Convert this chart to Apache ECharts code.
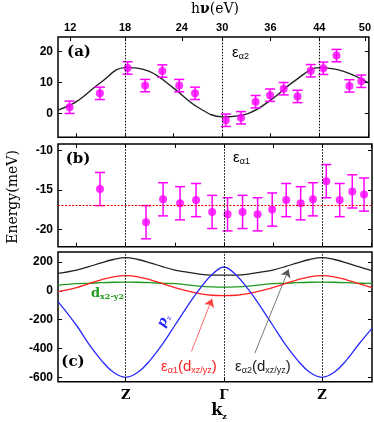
<!DOCTYPE html>
<html><head><meta charset="utf-8">
<script src="https://cdn.jsdelivr.net/npm/echarts@6/dist/echarts.min.js"></script>
<style>html,body{margin:0;padding:0;background:#fff}#c{width:374px;height:422px}</style>
</head><body><div id="c"></div>
<script>
// ---- tick labels ----
const hvTickLabels = [12, 18, 24, 30, 36, 44, 50];
const hvTickKz = [-1.564, -1, -0.415, 0, 0.497, 1, 1.469];
const symLabels = ['Z', 'Γ', 'Z'];
const symKz = [-1, 0, 1];
const kzTicks = [-1.5, -1, -0.5, 0, 0.5, 1, 1.5];
const aYTicks = [0, 10, 20];
const bYTicks = [-20, -15, -10];
const cYTicks = [-600, -400, -200, 0, 200];

// ---- panel (a): epsilon_alpha2 ----
const aKz = [-1.571, -1.259, -0.973, -0.793, -0.616, -0.442, -0.279, 0.037, 0.194, 0.344, 0.493, 0.633, 0.776, 0.912, 1.041, 1.177, 1.310, 1.432];
const aVal = [2.0, 6.5, 14.7, 9.0, 13.7, 9.0, 6.5, -2.2, -1.4, 3.8, 5.9, 8.0, 5.5, 13.8, 14.6, 18.7, 8.9, 10.4];
const aErr = [2, 2, 2, 2, 2, 2, 2, 2, 2, 2, 2, 2, 2, 2, 2, 2, 2, 2];
const aFitKz = [-1.69, -1.5, -1.25, -1.0, -0.75, -0.5, -0.25, 0, 0.25, 0.5, 0.75, 1.0, 1.25, 1.51];
const aFitVal = [1.1, 3.8, 10.0, 14.8, 13.6, 8.2, 2.0, -1.1, -0.2, 4.3, 10.6, 14.8, 13.6, 9.8];

// ---- panel (b): epsilon_alpha1 ----
const bKz = [-1.262, -0.793, -0.619, -0.446, -0.283, -0.119, 0.038, 0.191, 0.344, 0.493, 0.636, 0.783, 0.908, 1.044, 1.181, 1.309, 1.429];
const bVal = [-14.9, -19.1, -16.2, -16.7, -16.3, -17.8, -18.1, -17.8, -18.1, -17.5, -16.3, -16.7, -16.2, -13.9, -16.3, -15.2, -15.6];
const bErr = [2.1, 2.1, 2.1, 2.1, 2.1, 2.1, 2.1, 2.1, 2.1, 2.1, 2.1, 2.1, 2.1, 2.1, 2.1, 2.1, 2.1];
const bRef = -17;

// ---- panel (c): calculated bands ----
const cKz = [-1.69, -1.5, -1.375, -1.25, -1.125, -1, -0.875, -0.75, -0.625, -0.5, -0.375, -0.25, -0.125, 0, 0.125, 0.25, 0.375, 0.5, 0.625, 0.75, 0.875, 1, 1.125, 1.25, 1.375, 1.51];
const cBlack = [122, 145, 168, 195, 218, 231, 218, 195, 168, 145, 130, 117, 110, 109, 110, 117, 130, 145, 168, 195, 218, 231, 218, 195, 168, 140];
const cRed = [-5, 23, 50, 77, 98, 106, 98, 77, 50, 23, 0, -18, -30, -33, -30, -18, 0, 23, 50, 77, 98, 106, 98, 77, 50, 23];
const cGreen = [39, 50, 53, 57, 60, 61, 60, 57, 53, 50, 42, 33, 28, 26, 28, 33, 42, 50, 53, 57, 60, 61, 60, 57, 53, 52];
const cBlue = [-74, -240, -370, -480, -565, -600, -565, -480, -370, -240, -110, 10, 110, 166, 110, 10, -110, -240, -370, -480, -565, -600, -565, -480, -370, -260];

const zip = (xs, ys) => xs.map((x, i) => [x, ys[i]]);
const zip3 = (xs, ys, es) => xs.map((x, i) => [x, ys[i], es[i]]);
const nearestLabel = (vals, labels) => v => {
  let bi = 0, bd = Infinity;
  vals.forEach((t, i) => { const d = Math.abs(t - v); if (d < bd) { bd = d; bi = i; } });
  return String(labels[bi]);
};

const MAG = '#ff00ff';
function errRender(params, api) {
  const x = api.value(0), y = api.value(1), e = api.value(2);
  const t = api.coord([x, y + e]), b = api.coord([x, y - e]);
  const w = 5;
  const st = { stroke: MAG, lineWidth: 1.5 };
  return { type: 'group', children: [
    { type: 'line', shape: { x1: t[0], y1: t[1], x2: b[0], y2: b[1] }, style: st },
    { type: 'line', shape: { x1: t[0] - w, y1: t[1], x2: t[0] + w, y2: t[1] }, style: st },
    { type: 'line', shape: { x1: b[0] - w, y1: b[1], x2: b[0] + w, y2: b[1] }, style: st }
  ]};
}

const XMIN = -1.69, XMAX = 1.51;
const tickStyle = { inside: true, length: 4, lineStyle: { color: '#000', width: 1 } };
const yLab = { fontFamily: 'Liberation Sans', fontWeight: 'bold', fontSize: 12, color: '#000', margin: 5 };

function xAx(grid, pos, ticks, labelOpt) {
  return {
    type: 'value', gridIndex: grid, position: pos, min: XMIN, max: XMAX,
    axisLine: { show: false, onZero: false }, splitLine: { show: false },
    axisTick: Object.assign({ show: !!ticks, customValues: ticks || [] }, tickStyle),
    axisLabel: labelOpt || { show: false }
  };
}
function yAx(grid, pos, min, max, ticks, show) {
  return {
    type: 'value', gridIndex: grid, position: pos, min: min, max: max,
    axisLine: { show: false, onZero: false }, splitLine: { show: false },
    axisTick: Object.assign({ show: true, customValues: ticks }, tickStyle),
    axisLabel: show ? Object.assign({ customValues: ticks }, yLab) : { show: false }
  };
}

const vDots = () => ({
  silent: true, symbol: 'none', animation: false,
  label: { show: false },
  lineStyle: { color: '#000', width: 1, type: [1.5, 1.5] },
  data: symKz.map(v => ({ xAxis: v }))
});

const gridBase = { left: 58, right: 2, show: true, borderColor: '#000', borderWidth: 1.5, backgroundColor: 'transparent' };
const serifBold = { fontFamily: 'DejaVu Serif', fontWeight: 'bold', fontSize: 15, fill: '#000' };

const option = {
  animation: false,
  grid: [
    Object.assign({ top: 37, height: 100.3 }, gridBase),
    Object.assign({ top: 144, height: 102.7 }, gridBase),
    Object.assign({ top: 252, height: 129.7 }, gridBase)
  ],
  xAxis: [
    xAx(0, 'bottom', kzTicks),
    xAx(0, 'top', hvTickKz, { customValues: hvTickKz, formatter: nearestLabel(hvTickKz, hvTickLabels), fontFamily: 'Liberation Sans', fontWeight: 'bold', fontSize: 11, color: '#000', margin: 4 }),
    xAx(1, 'bottom', kzTicks),
    xAx(1, 'top', kzTicks),
    xAx(2, 'bottom', symKz, { customValues: symKz, formatter: nearestLabel(symKz, symLabels), fontFamily: 'DejaVu Serif', fontWeight: 'bold', fontSize: 13, color: '#000', margin: 7 }),
    xAx(2, 'top', null)
  ],
  yAxis: [
    yAx(0, 'left', -7.7, 24.7, aYTicks, true),
    yAx(0, 'right', -7.7, 24.7, aYTicks, false),
    yAx(1, 'left', -22.2, -9.2, bYTicks, true),
    yAx(1, 'right', -22.2, -9.2, bYTicks, false),
    yAx(2, 'left', -630, 270, cYTicks, true),
    yAx(2, 'right', -630, 270, cYTicks, false)
  ],
  series: [
    { type: 'line', xAxisIndex: 0, yAxisIndex: 0, data: zip(aFitKz, aFitVal), smooth: 0.4, showSymbol: false,
      lineStyle: { color: '#222', width: 1.4 }, markLine: vDots(), z: 2 },
    { type: 'custom', xAxisIndex: 0, yAxisIndex: 0, data: zip3(aKz, aVal, aErr), renderItem: errRender,
      encode: { x: 0, y: 1 }, z: 3 },
    { type: 'scatter', xAxisIndex: 0, yAxisIndex: 0, data: zip(aKz, aVal), symbolSize: 8,
      itemStyle: { color: MAG }, z: 4 },

    { type: 'custom', xAxisIndex: 2, yAxisIndex: 2, data: zip3(bKz, bVal, bErr), renderItem: errRender,
      encode: { x: 0, y: 1 }, z: 3,
      markLine: { silent: true, symbol: 'none', label: { show: false },
        data: symKz.map(v => ({ xAxis: v, lineStyle: { color: '#000', width: 1, type: [1.5, 1.5] } }))
          .concat([{ yAxis: bRef, lineStyle: { color: '#ee0000', width: 1.2, type: [2, 1.5] } }]) } },
    { type: 'scatter', xAxisIndex: 2, yAxisIndex: 2, data: zip(bKz, bVal), symbolSize: 8,
      itemStyle: { color: MAG }, z: 4 },

    { type: 'line', xAxisIndex: 4, yAxisIndex: 4, data: zip(cKz, cGreen), smooth: 0.4, showSymbol: false,
      lineStyle: { color: '#1f9a1f', width: 1.3 }, markLine: vDots() },
    { type: 'line', xAxisIndex: 4, yAxisIndex: 4, data: zip(cKz, cBlack), smooth: 0.4, showSymbol: false,
      lineStyle: { color: '#222', width: 1.3 },
      markLine: { silent: true, symbol: ['none', 'arrow'], symbolSize: 8, label: { show: false },
        lineStyle: { color: '#555', width: 0.8, type: 'solid' },
        data: [[{ coord: [0.316, -432] }, { coord: [0.66, 150] }]] } },
    { type: 'line', xAxisIndex: 4, yAxisIndex: 4, data: zip(cKz, cRed), smooth: 0.4, showSymbol: false,
      lineStyle: { color: '#ff2020', width: 1.3 },
      markLine: { silent: true, symbol: ['none', 'arrow'], symbolSize: 8, label: { show: false },
        lineStyle: { color: '#ff4040', width: 0.8, type: 'solid' },
        data: [[{ coord: [-0.33, -420] }, { coord: [-0.12, -55] }]] } },
    { type: 'line', xAxisIndex: 4, yAxisIndex: 4, data: zip(cKz, cBlue), smooth: 0.4, showSymbol: false,
      lineStyle: { color: '#2828ff', width: 1.3 } }
  ],
  graphic: [
    { type: 'text', x: 215, y: 9, style: { text: '{n|h}{v|ν}{n|(eV)}', align: 'center', verticalAlign: 'middle',
      rich: { n: { fontFamily: 'DejaVu Serif', fontSize: 14, fill: '#000' }, v: { fontFamily: 'DejaVu Serif', fontWeight: 'bold', fontSize: 14, fill: '#000' } } } },
    { type: 'text', x: 13, y: 197, rotation: Math.PI / 2, style: { text: 'Energy(meV)', align: 'center', verticalAlign: 'middle',
      fontFamily: 'DejaVu Serif', fontSize: 14, fill: '#000' } },
    { type: 'text', x: 219, y: 412, style: { text: '{k|k}{s|z}', align: 'center', verticalAlign: 'middle',
      rich: { k: { fontFamily: 'DejaVu Serif', fontWeight: 'bold', fontSize: 16, fill: '#000', lineHeight: 18, verticalAlign: 'top' },
              s: { fontFamily: 'DejaVu Serif', fontWeight: 'bold', fontSize: 8, fill: '#000', lineHeight: 10, verticalAlign: 'bottom' } } } },
    { type: 'text', x: 79, y: 52, style: Object.assign({ text: '(a)', align: 'center', verticalAlign: 'middle' }, serifBold) },
    { type: 'text', x: 78, y: 159, style: Object.assign({ text: '(b)', align: 'center', verticalAlign: 'middle' }, serifBold) },
    { type: 'text', x: 73, y: 362, style: Object.assign({ text: '(c)', align: 'center', verticalAlign: 'middle' }, serifBold) },
    { type: 'text', x: 232, y: 53, style: { text: '{e|ε}{s|α2}', verticalAlign: 'middle',
      rich: { e: { fontFamily: 'Liberation Sans', fontSize: 15, fill: '#000', lineHeight: 16, verticalAlign: 'top' },
              s: { fontFamily: 'Liberation Sans', fontSize: 9, fill: '#000', lineHeight: 10, verticalAlign: 'bottom' } } } },
    { type: 'text', x: 233, y: 158, style: { text: '{e|ε}{s|α1}', verticalAlign: 'middle',
      rich: { e: { fontFamily: 'Liberation Sans', fontSize: 15, fill: '#000', lineHeight: 16, verticalAlign: 'top' },
              s: { fontFamily: 'Liberation Sans', fontSize: 9, fill: '#000', lineHeight: 10, verticalAlign: 'bottom' } } } },
    { type: 'text', x: 91, y: 294, style: { text: '{e|d}{s|x2-y2}', verticalAlign: 'middle',
      rich: { e: { fontFamily: 'DejaVu Serif', fontWeight: 'bold', fontSize: 13, fill: '#1f9a1f', lineHeight: 14, verticalAlign: 'top' },
              s: { fontFamily: 'DejaVu Serif', fontWeight: 'bold', fontSize: 8, fill: '#1f9a1f', lineHeight: 9, verticalAlign: 'bottom' } } } },
    { type: 'text', x: 164, y: 321, rotation: 1.15, style: { text: '{e|p}{s|z}', align: 'center', verticalAlign: 'middle',
      rich: { e: { fontFamily: 'DejaVu Serif', fontStyle: 'italic', fontWeight: 'bold', fontSize: 13, fill: '#2828ff', lineHeight: 14, verticalAlign: 'top' },
              s: { fontFamily: 'DejaVu Serif', fontSize: 7, fill: '#2828ff', lineHeight: 8, verticalAlign: 'bottom' } } } },
    { type: 'text', x: 161, y: 367, style: { text: '{e|ε}{s|α1}{e|(d}{s|xz/yz}{e|)}', verticalAlign: 'middle',
      rich: { e: { fontFamily: 'Liberation Sans', fontSize: 15, fill: '#ff2020', lineHeight: 16, verticalAlign: 'top' },
              s: { fontFamily: 'Liberation Sans', fontSize: 9, fill: '#ff2020', lineHeight: 10, verticalAlign: 'bottom' } } } },
    { type: 'text', x: 235, y: 367, style: { text: '{e|ε}{s|α2}{e|(d}{s|xz/yz}{e|)}', verticalAlign: 'middle',
      rich: { e: { fontFamily: 'Liberation Sans', fontSize: 15, fill: '#222', lineHeight: 16, verticalAlign: 'top' },
              s: { fontFamily: 'Liberation Sans', fontSize: 9, fill: '#222', lineHeight: 10, verticalAlign: 'bottom' } } } }
  ]
};
const chart = echarts.init(document.getElementById('c'), null, { renderer: 'canvas' });
chart.setOption(option);
</script></body></html>
